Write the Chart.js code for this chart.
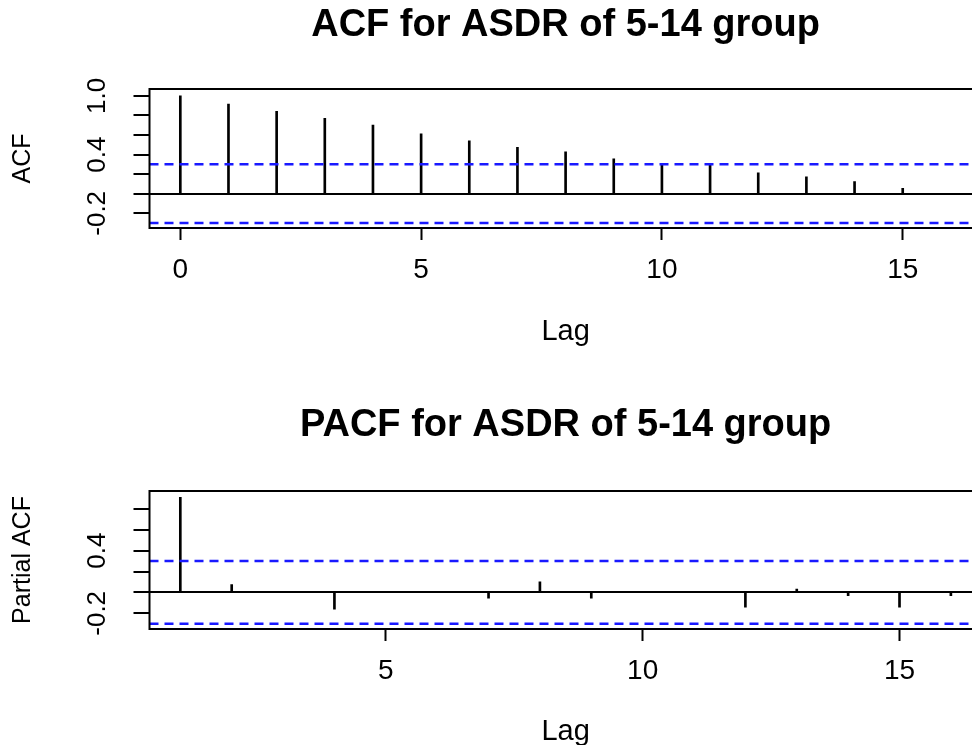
<!DOCTYPE html>
<html><head><meta charset="utf-8">
<script src="https://cdn.jsdelivr.net/npm/chart.js@4"></script>
<style>
html,body{margin:0;padding:0;background:#fff;overflow:hidden;width:972px;height:745px;}
#c1{position:absolute;left:0;top:0;}
#c2{position:absolute;left:0;top:372px;}
</style></head><body>
<canvas id="c1" width="990" height="372" style="width:990px;height:372px"></canvas>
<canvas id="c2" width="990" height="390" style="width:990px;height:390px"></canvas>
<script>
// ---- data ----
const acfLags = [0,1,2,3,4,5,6,7,8,9,10,11,12,13,14,15,16];
const acfValues = [1.0,0.915,0.843,0.771,0.702,0.613,0.541,0.473,0.428,0.357,0.305,0.298,0.213,0.172,0.123,0.055,0.0];
const pacfLags = [1,2,3,4,5,6,7,8,9,10,11,12,13,14,15,16];
const pacfValues = [0.91,0.074,0.0,-0.16,0.0,0.0,-0.054,0.10,-0.054,0.0,0.0,-0.14,0.033,-0.032,-0.14,-0.032];
const ciBound = 0.30;
const acfXTicks = [0,5,10,15];
const pacfXTicks = [5,10,15];
const acfYTicks = [-0.2,0,0.2,0.4,0.6,0.8,1.0];
const pacfYTicks = [-0.2,0,0.2,0.4,0.6,0.8];
const acfYLabelValues = [1.0,0.4,-0.2];
const acfYLabelTexts = ['1.0','0.4','-0.2'];
const pacfYLabelValues = [0.4,-0.2];
const pacfYLabelTexts = ['0.4','-0.2'];
const acfXRange = [-0.64,16.64];
const acfYRange = [-0.35,1.07];
const pacfXRange = [0.4,16.6];
const pacfYRange = [-0.35,0.97];
const titles = ['ACF for ASDR of 5-14 group','PACF for ASDR of 5-14 group'];
const yTitles = ['ACF','Partial ACF'];
const xTitle = 'Lag';

const FAM = '"Liberation Sans", Arial, sans-serif';
const BLUE = 'rgb(25,25,255)';

function makeChart(id, o){
  const frame = {
    id:'frame',
    afterDatasetsDraw(chart){
      const a = chart.chartArea, ctx = chart.ctx;
      ctx.save(); ctx.strokeStyle='#000'; ctx.lineWidth=2;
      ctx.strokeRect(a.left,a.top,a.right-a.left,a.bottom-a.top);
      ctx.restore();
    }
  };
  const ylab = {
    id:'ylab',
    afterDraw(chart){
      const s = chart.scales.y, ctx = chart.ctx;
      ctx.save(); ctx.font = '26px ' + FAM; ctx.fillStyle='#000';
      ctx.textAlign='center'; ctx.textBaseline='middle';
      o.yLabVals.forEach((v,i)=>{
        const y = s.getPixelForValue(v);
        ctx.save(); ctx.translate(98,y); ctx.rotate(-Math.PI/2);
        ctx.fillText(o.yLabTexts[i],0,0); ctx.restore();
      });
      ctx.restore();
    }
  };
  return new Chart(document.getElementById(id),{
    type:'bar',
    data:{datasets:[
      {type:'line',data:[{x:o.xr[0],y:ciBound},{x:o.xr[1],y:ciBound}],borderColor:BLUE,borderWidth:2.5,borderDash:[9,6],pointRadius:0},
      {type:'line',data:[{x:o.xr[0],y:-ciBound},{x:o.xr[1],y:-ciBound}],borderColor:BLUE,borderWidth:2.5,borderDash:[9,6],pointRadius:0},
      {type:'bar',data:o.lags.map((l,i)=>({x:l,y:o.vals[i]})),backgroundColor:'#000',borderWidth:0,barThickness:2}
    ]},
    options:{
      responsive:false, animation:false, events:[],
      layout:{padding:{left:0,right:8.3,top:0,bottom:0}},
      plugins:{
        legend:{display:false}, tooltip:{enabled:false},
        title:{display:true,text:o.title,fullSize:false,color:'#000',
          font:{family:FAM,size:38,weight:'bold',lineHeight:1.2},
          padding:{top:o.tPadTop,bottom:o.tPadBot}}
      },
      scales:{
        x:{type:'linear',min:o.xr[0],max:o.xr[1],offset:false,
          afterBuildTicks:s=>{s.ticks=o.xTicks.map(v=>({value:v}));},
          afterFit:s=>{s.height=o.xH;},
          ticks:{color:'#000',font:{family:FAM,size:28},padding:13,maxRotation:0,autoSkip:false,callback:v=>String(v)},
          grid:{drawOnChartArea:false,drawTicks:true,tickLength:12,tickColor:'#000',tickWidth:2,offset:false},
          border:{display:false},
          title:{display:true,text:xTitle,color:'#000',font:{family:FAM,size:29,lineHeight:1.2},padding:{top:0,bottom:o.xtPad}}
        },
        y:{type:'linear',min:o.yr[0],max:o.yr[1],
          afterBuildTicks:s=>{s.ticks=o.yTicks.map(v=>({value:v}));},
          afterFit:s=>{s.width=149.5;},
          ticks:{display:false},
          grid:{drawOnChartArea:true,color:c=>(c.tick&&Math.abs(c.tick.value)<1e-9)?'#000':'rgba(0,0,0,0)',lineWidth:2,
            drawTicks:true,tickLength:16,tickColor:'#000',tickWidth:2},
          border:{display:false},
          title:{display:true,text:o.yTitle,color:'#000',font:{family:FAM,size:25,lineHeight:1.2},padding:{top:8,bottom:0}}
        }
      }
    },
    plugins:[frame,ylab]
  });
}

makeChart('c1',{lags:acfLags,vals:acfValues,xr:acfXRange,yr:acfYRange,xTicks:acfXTicks,yTicks:acfYTicks,
  yLabVals:acfYLabelValues,yLabTexts:acfYLabelTexts,title:titles[0],yTitle:yTitles[0],
  tPadTop:2.7,tPadBot:40.7,xH:144,xtPad:23.1});
makeChart('c2',{lags:pacfLags,vals:pacfValues,xr:pacfXRange,yr:pacfYRange,xTicks:pacfXTicks,yTicks:pacfYTicks,
  yLabVals:pacfYLabelValues,yLabTexts:pacfYLabelTexts,title:titles[1],yTitle:yTitles[1],
  tPadTop:30.7,tPadBot:42.7,xH:133,xtPad:13.1});
</script>
</body></html>
